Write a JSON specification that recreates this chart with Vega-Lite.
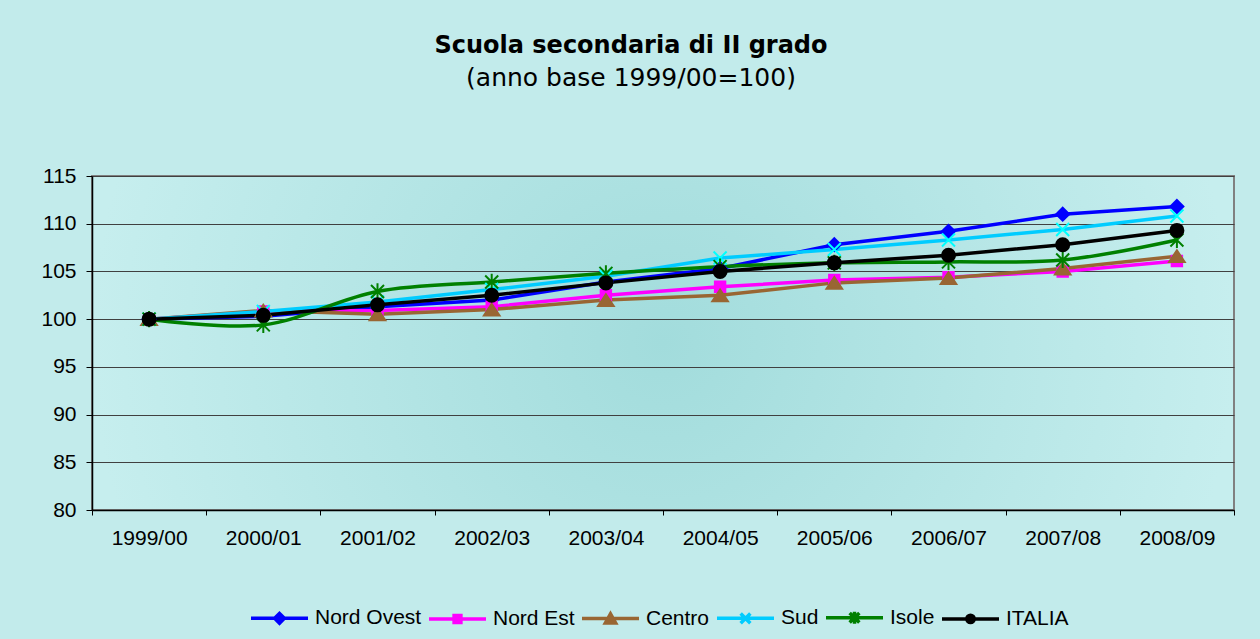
{
  "$schema": "https://vega.github.io/schema/vega-lite/v6.json",
  "width": 1142,
  "height": 334,
  "autosize": {"type": "none"},
  "padding": {"left": 92, "top": 176, "right": 26, "bottom": 129},
  "background": "#C2EBEB",
  "title": {
    "text": "Scuola secondaria di II grado",
    "subtitle": "(anno base 1999/00=100)",
    "font": "DejaVu Sans",
    "fontSize": 24,
    "fontWeight": "bold",
    "color": "#000000",
    "subtitleFont": "DejaVu Sans",
    "subtitleFontSize": 25,
    "subtitleColor": "#000000",
    "subtitlePadding": 8,
    "anchor": "middle",
    "dx": -32,
    "offset": 74
  },
  "config": {
    "font": "Liberation Sans",
    "view": {
      "stroke": "#808080",
      "strokeWidth": 2,
      "fill": {"gradient": "radial", "stops": [{"offset": 0, "color": "#A2DCDC"}, {"offset": 1, "color": "#C6EEEE"}]}
    }
  },
  "data": {
    "values": [
      {"anno": "1999/00", "regione": "Nord Ovest", "valore": 100},
      {"anno": "2000/01", "regione": "Nord Ovest", "valore": 100.3},
      {"anno": "2001/02", "regione": "Nord Ovest", "valore": 101.3},
      {"anno": "2002/03", "regione": "Nord Ovest", "valore": 102.0},
      {"anno": "2003/04", "regione": "Nord Ovest", "valore": 103.9},
      {"anno": "2004/05", "regione": "Nord Ovest", "valore": 105.3},
      {"anno": "2005/06", "regione": "Nord Ovest", "valore": 107.8},
      {"anno": "2006/07", "regione": "Nord Ovest", "valore": 109.2},
      {"anno": "2007/08", "regione": "Nord Ovest", "valore": 111.0},
      {"anno": "2008/09", "regione": "Nord Ovest", "valore": 111.8},
      {"anno": "1999/00", "regione": "Nord Est", "valore": 100},
      {"anno": "2000/01", "regione": "Nord Est", "valore": 100.8},
      {"anno": "2001/02", "regione": "Nord Est", "valore": 100.9},
      {"anno": "2002/03", "regione": "Nord Est", "valore": 101.3},
      {"anno": "2003/04", "regione": "Nord Est", "valore": 102.5},
      {"anno": "2004/05", "regione": "Nord Est", "valore": 103.4},
      {"anno": "2005/06", "regione": "Nord Est", "valore": 104.1},
      {"anno": "2006/07", "regione": "Nord Est", "valore": 104.4},
      {"anno": "2007/08", "regione": "Nord Est", "valore": 105.0},
      {"anno": "2008/09", "regione": "Nord Est", "valore": 106.1},
      {"anno": "1999/00", "regione": "Centro", "valore": 100},
      {"anno": "2000/01", "regione": "Centro", "valore": 100.9},
      {"anno": "2001/02", "regione": "Centro", "valore": 100.5},
      {"anno": "2002/03", "regione": "Centro", "valore": 101.0},
      {"anno": "2003/04", "regione": "Centro", "valore": 102.0},
      {"anno": "2004/05", "regione": "Centro", "valore": 102.5},
      {"anno": "2005/06", "regione": "Centro", "valore": 103.8},
      {"anno": "2006/07", "regione": "Centro", "valore": 104.3},
      {"anno": "2007/08", "regione": "Centro", "valore": 105.3},
      {"anno": "2008/09", "regione": "Centro", "valore": 106.6},
      {"anno": "1999/00", "regione": "Sud", "valore": 100},
      {"anno": "2000/01", "regione": "Sud", "valore": 100.8},
      {"anno": "2001/02", "regione": "Sud", "valore": 101.8},
      {"anno": "2002/03", "regione": "Sud", "valore": 103.1},
      {"anno": "2003/04", "regione": "Sud", "valore": 104.5},
      {"anno": "2004/05", "regione": "Sud", "valore": 106.4},
      {"anno": "2005/06", "regione": "Sud", "valore": 107.3},
      {"anno": "2006/07", "regione": "Sud", "valore": 108.3},
      {"anno": "2007/08", "regione": "Sud", "valore": 109.4},
      {"anno": "2008/09", "regione": "Sud", "valore": 110.8},
      {"anno": "1999/00", "regione": "Isole", "valore": 100},
      {"anno": "2000/01", "regione": "Isole", "valore": 99.4},
      {"anno": "2001/02", "regione": "Isole", "valore": 102.9},
      {"anno": "2002/03", "regione": "Isole", "valore": 103.9},
      {"anno": "2003/04", "regione": "Isole", "valore": 104.8},
      {"anno": "2004/05", "regione": "Isole", "valore": 105.5},
      {"anno": "2005/06", "regione": "Isole", "valore": 105.9},
      {"anno": "2006/07", "regione": "Isole", "valore": 106.0},
      {"anno": "2007/08", "regione": "Isole", "valore": 106.2},
      {"anno": "2008/09", "regione": "Isole", "valore": 108.3},
      {"anno": "1999/00", "regione": "ITALIA", "valore": 100},
      {"anno": "2000/01", "regione": "ITALIA", "valore": 100.4},
      {"anno": "2001/02", "regione": "ITALIA", "valore": 101.5},
      {"anno": "2002/03", "regione": "ITALIA", "valore": 102.5},
      {"anno": "2003/04", "regione": "ITALIA", "valore": 103.8},
      {"anno": "2004/05", "regione": "ITALIA", "valore": 105.0},
      {"anno": "2005/06", "regione": "ITALIA", "valore": 105.9},
      {"anno": "2006/07", "regione": "ITALIA", "valore": 106.7},
      {"anno": "2007/08", "regione": "ITALIA", "valore": 107.8},
      {"anno": "2008/09", "regione": "ITALIA", "valore": 109.3}
    ]
  },
  "encoding": {
    "x": {
      "field": "anno",
      "type": "ordinal",
      "sort": null,
      "scale": {"type": "band", "paddingInner": 0, "paddingOuter": 0},
      "axis": {
        "title": null,
        "labelAngle": 0,
        "tickBand": "extent",
        "tickSize": 5,
        "tickColor": "#000000",
        "domainColor": "#000000",
        "domainWidth": 1.5,
        "labelFontSize": 21,
        "labelColor": "#000000",
        "labelPadding": 12,
        "grid": false
      }
    },
    "y": {
      "field": "valore",
      "type": "quantitative",
      "scale": {"domain": [80, 115], "nice": false, "zero": false},
      "axis": {
        "title": null,
        "values": [80, 85, 90, 95, 100, 105, 110, 115],
        "tickSize": 6,
        "tickColor": "#000000",
        "domainColor": "#000000",
        "domainWidth": 1.5,
        "gridColor": "#404040",
        "gridWidth": 1,
        "labelFontSize": 21,
        "labelColor": "#000000",
        "labelPadding": 10
      }
    }
  },
  "layer": [
    {
      "transform": [{"filter": {"field": "regione", "oneOf": ["Nord Ovest", "Nord Est", "Centro", "Sud"]}}],
      "mark": {"type": "line", "strokeWidth": 3.5},
      "encoding": {
        "color": {
          "field": "regione",
          "type": "nominal",
          "scale": {"domain": ["Nord Ovest", "Nord Est", "Centro", "Sud", "Isole", "ITALIA"], "range": ["#0000FF", "#FF00FF", "#996633", "#00CCFF", "#008000", "#000000"]},
          "legend": {
            "orient": "none",
            "legendX": 157,
            "legendY": 411,
            "direction": "horizontal",
            "title": null,
            "symbolType": "stroke",
            "symbolSize": 3249,
            "symbolStrokeWidth": 3.5,
            "labelFontSize": 21,
            "labelColor": "#000000",
            "labelOffset": 5,
            "labelLimit": 300,
            "columnPadding": 0,
            "padding": 0,
            "encode": {
              "symbols": {
                "update": {
                  "shape": {"signal": "datum.value === 'Nord Ovest' ? 'M-1,0L1,0M0,-0.17L0.17,0L0,0.17L-0.17,0Z' : datum.value === 'Nord Est' ? 'M-1,0L1,0M-0.12,-0.12L0.12,-0.12L0.12,0.12L-0.12,0.12Z' : datum.value === 'Centro' ? 'M-1,0L1,0M0,-0.17L0.18,0.15L-0.18,0.15Z' : datum.value === 'Sud' ? 'M-1,0L1,0M-0.17,-0.17L0.17,0.17M0.17,-0.17L-0.17,0.17' : datum.value === 'Isole' ? 'M-1,0L1,0M-0.17,-0.17L0.17,0.17M0.17,-0.17L-0.17,0.17M0,-0.21L0,0.21' : 'M-1,0L1,0M0.13,0A0.13,0.13 0 1,1 -0.13,0A0.13,0.13 0 1,1 0.13,0Z'"},
                  "fill": {"signal": "scale('color', datum.value)"},
                  "stroke": {"signal": "scale('color', datum.value)"},
                  "opacity": {"value": 1}
                }
              }
            }
          }
        }
      }
    },
    {
      "transform": [{"filter": {"field": "regione", "equal": "Isole"}}],
      "mark": {"type": "line", "strokeWidth": 3.5, "interpolate": "catmull-rom"},
      "encoding": {
        "color": {
          "field": "regione",
          "type": "nominal",
          "scale": {"domain": ["Nord Ovest", "Nord Est", "Centro", "Sud", "Isole", "ITALIA"], "range": ["#0000FF", "#FF00FF", "#996633", "#00CCFF", "#008000", "#000000"]}
        }
      }
    },
    {
      "transform": [{"filter": {"field": "regione", "equal": "ITALIA"}}],
      "mark": {"type": "line", "strokeWidth": 3.5},
      "encoding": {
        "color": {
          "field": "regione",
          "type": "nominal",
          "scale": {"domain": ["Nord Ovest", "Nord Est", "Centro", "Sud", "Isole", "ITALIA"], "range": ["#0000FF", "#FF00FF", "#996633", "#00CCFF", "#008000", "#000000"]}
        }
      }
    },
    {
      "transform": [{"filter": {"field": "regione", "equal": "Nord Ovest"}}],
      "mark": {"type": "point", "filled": true, "opacity": 1, "strokeWidth": 2, "shape": "M0,-1L1,0L0,1L-1,0Z", "fill": "#0000FF", "stroke": "#0000FF", "size": 169},
      "encoding": {}
    },
    {
      "transform": [{"filter": {"field": "regione", "equal": "Nord Est"}}],
      "mark": {"type": "point", "filled": true, "opacity": 1, "strokeWidth": 2, "shape": "M-0.8,-0.8L0.8,-0.8L0.8,0.8L-0.8,0.8Z", "fill": "#FF00FF", "stroke": "#FF00FF", "size": 169},
      "encoding": {}
    },
    {
      "transform": [{"filter": {"field": "regione", "equal": "Centro"}}],
      "mark": {"type": "point", "filled": true, "opacity": 1, "strokeWidth": 2, "shape": "M0,-0.9L1.2,0.9L-1.2,0.9Z", "fill": "#996633", "stroke": "#996633", "size": 169},
      "encoding": {}
    },
    {
      "transform": [{"filter": {"field": "regione", "equal": "Sud"}}],
      "mark": {"type": "point", "filled": true, "opacity": 1, "strokeWidth": 2, "shape": "M-1,-1L1,1M1,-1L-1,1", "fill": "#00FFFF", "stroke": "#00FFFF", "size": 169},
      "encoding": {}
    },
    {
      "transform": [{"filter": {"field": "regione", "equal": "Isole"}}],
      "mark": {"type": "point", "filled": true, "opacity": 1, "strokeWidth": 2, "shape": "M-1,-1L1,1M1,-1L-1,1M0,-1.25L0,1.25", "fill": "#008000", "stroke": "#008000", "size": 169},
      "encoding": {}
    },
    {
      "transform": [{"filter": {"field": "regione", "equal": "ITALIA"}}],
      "mark": {"type": "point", "filled": true, "opacity": 1, "strokeWidth": 2, "shape": "circle", "fill": "#000000", "stroke": "#000000", "size": 169},
      "encoding": {}
    }
  ]
}
